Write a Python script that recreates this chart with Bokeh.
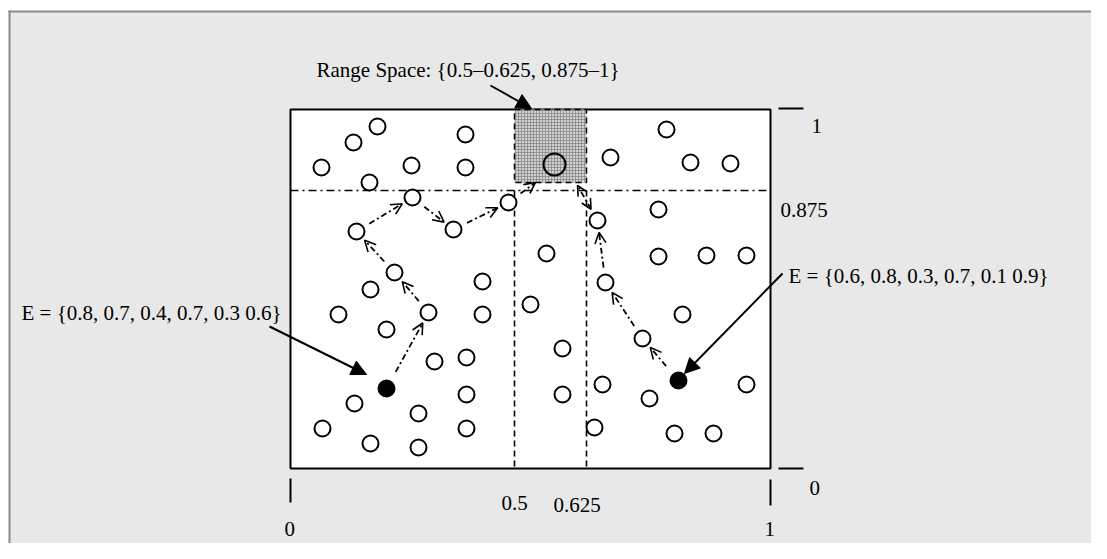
import math
from bokeh.plotting import figure
from bokeh.models import Range1d, ColumnDataSource, Arrow, OpenHead, NormalHead
from bokeh.core.properties import value
from bokeh.embed import file_html
from bokeh.resources import INLINE

# ---- data (pixel coordinates, y grows downward) ----
open_x = [377, 353, 321, 411, 465, 465, 369, 412, 356, 453, 508, 394, 482, 370,
          338, 428, 482, 386, 434, 466, 354, 418, 466, 322, 370, 418, 466,
          530, 546, 562, 562,
          610, 666, 690, 730, 658, 597, 658, 706, 746, 605,
          682, 642, 602, 649, 746, 594, 674, 713]
open_y = [126, 142, 167, 165, 134, 167, 182, 197, 231, 229, 202, 272, 281, 289,
          314, 312, 314, 329, 361, 357, 403, 413, 394, 428, 443, 447, 428,
          304, 253, 348, 394,
          157, 129, 162, 163, 209, 220, 256, 255, 255, 282,
          314, 338, 384, 398, 384, 427, 433, 433]
filled_x = [386, 678]
filled_y = [388, 380]
range_circle_x = [554]
range_circle_y = [164]

# search paths (last point of left path is on the range-space cell)
left_path_x = [386, 428, 394, 356, 412, 453, 508, 535]
left_path_y = [388, 312, 272, 231, 197, 229, 202, 182]
right_path_x = [678, 642, 605, 597]
right_path_y = [380, 338, 282, 220]
link_x = [597, 577]
link_y = [220, 185]

# diagram frame
box_left, box_right, box_top, box_bottom = 290, 770, 109, 468
range_left, range_right, range_top, range_bottom = 514, 586, 109, 182
split_y = 190

# callout arrows
callout_x0 = [490, 269, 782]
callout_y0 = [85, 326, 273]
callout_x1 = [531, 366, 684]
callout_y1 = [108, 374, 373]

# texts (x = left edge, y = baseline)
label_text = ["Range Space: {0.5\u20130.625, 0.875\u20131}", "1", "0.875", "0",
              "E = {0.8, 0.7, 0.4, 0.7, 0.3 0.6}", "E = {0.6, 0.8, 0.3, 0.7, 0.1 0.9}",
              "0.5", "0.625", "0", "1"]
label_x = [316, 811, 780, 809, 21, 788, 501, 553, 284, 764]
label_y = [77, 133, 217, 495, 320, 283, 510, 512, 536, 536]

# tick marks
hticks_y = [108, 468]
vticks_x = [290, 770]

W, H = 1091, 543
TEXT_SHIFT = 8  # svg text renders lower than the requested baseline

p = figure(width=W, height=H, x_range=Range1d(0, W), y_range=Range1d(H, 0),
           output_backend="svg", toolbar_location=None, x_axis_type=None, y_axis_type=None,
           min_border=0, outline_line_color=None, background_fill_color="white",
           border_fill_color="white")
p.grid.visible = False

# gray panel with border on top/left
p.quad(left=[9], right=[W + 10], top=[11], bottom=[H + 10], fill_color="#e8e8e8", line_color=None)
p.segment(x0=[9], y0=[10], x1=[9], y1=[H + 10], line_color="#8a8a8a", line_width=2)
p.segment(x0=[8], y0=[11], x1=[W + 10], y1=[11], line_color="#8a8a8a", line_width=2)

# main box
p.quad(left=[box_left], right=[box_right], top=[box_top], bottom=[box_bottom],
       fill_color="white", line_color="black", line_width=2)

# range space cell
p.quad(left=[range_left], right=[range_right], top=[range_top], bottom=[range_bottom],
       fill_color="#d2d2d2", hatch_pattern="cross", hatch_scale=3, hatch_color="#808080",
       hatch_weight=0.7, line_color="black", line_width=1.5, line_dash="6 4")

# dashed verticals and dash-dot horizontal
p.segment(x0=[range_left, range_right], y0=[split_y, split_y],
          x1=[range_left, range_right], y1=[box_bottom, box_bottom],
          line_color="black", line_width=1.6, line_dash="6 4")
p.segment(x0=[box_left], y0=[split_y], x1=[box_right], y1=[split_y],
          line_color="black", line_width=1.6, line_dash="8 4 2 4")

# ticks
p.segment(x0=[778] * 2, y0=hticks_y, x1=[803] * 2, y1=hticks_y, line_color="black", line_width=2)
p.segment(x0=vticks_x, y0=[478, 479], x1=vticks_x, y1=[502, 505], line_color="black", line_width=2)

# circles
p.scatter(open_x, open_y, size=16, fill_color="white", line_color="black", line_width=2)
p.scatter(range_circle_x, range_circle_y, size=22, fill_color=None, line_color="black", line_width=2)
p.scatter(filled_x, filled_y, size=16, fill_color="black", line_color="black", line_width=2)


def path_segments(xs, ys, last_on_target, g0=15, g1=12):
    out = dict(x0=[], y0=[], x1=[], y1=[])
    n = len(xs)
    for i in range(n - 1):
        dx, dy = xs[i + 1] - xs[i], ys[i + 1] - ys[i]
        L = math.hypot(dx, dy)
        ux, uy = dx / L, dy / L
        s = 19 if i == 0 else g0
        e = 0 if (i == n - 2 and last_on_target) else g1
        out["x0"].append(xs[i] + ux * s)
        out["y0"].append(ys[i] + uy * s)
        out["x1"].append(xs[i + 1] - ux * e)
        out["y1"].append(ys[i + 1] - uy * e)
    return out


for xs, ys, tgt in [(left_path_x, left_path_y, True), (right_path_x, right_path_y, False)]:
    src = ColumnDataSource(path_segments(xs, ys, tgt))
    p.add_layout(Arrow(x_start="x0", y_start="y0", x_end="x1", y_end="y1", source=src,
                       line_width=1.8, line_dash="6 3 2 3", line_color="black",
                       end=OpenHead(size=11, line_width=1.6, line_color="black")))

# double-headed link into the range cell
dx, dy = link_x[1] - link_x[0], link_y[1] - link_y[0]
L = math.hypot(dx, dy)
p.add_layout(Arrow(x_start=link_x[0] + dx / L * 13, y_start=link_y[0] + dy / L * 13,
                   x_end=link_x[1], y_end=link_y[1], line_width=1.8, line_dash="6 3 2 3",
                   start=OpenHead(size=10, line_width=1.6), end=OpenHead(size=10, line_width=1.6)))

# callouts
csrc = ColumnDataSource(dict(x0=callout_x0, y0=callout_y0, x1=callout_x1, y1=callout_y1))
p.add_layout(Arrow(x_start="x0", y_start="y0", x_end="x1", y_end="y1", source=csrc,
                   line_width=2, line_color="black",
                   end=NormalHead(size=15, fill_color="black", line_color="black", line_width=1)))

# texts
p.text(x=label_x, y=[v - TEXT_SHIFT for v in label_y], text=label_text,
       text_font=value("Liberation Serif"), text_font_size="21px", text_color="black",
       text_baseline="alphabetic", text_align="left")

open("out.html", "w").write(file_html(p, INLINE))
